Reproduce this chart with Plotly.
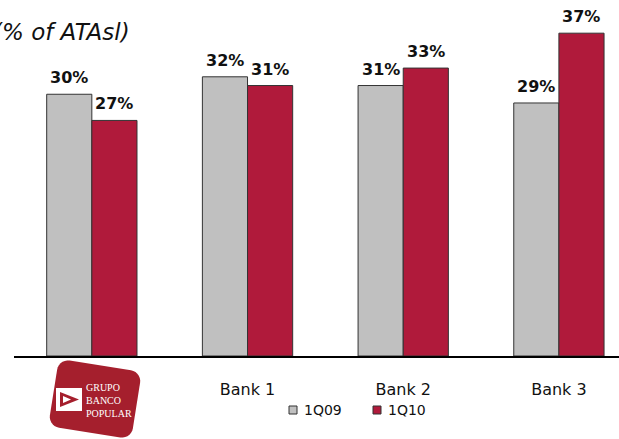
import numpy as np
import plotly.graph_objects as go

# --- data ---
categories = ["", "Bank 1", "Bank 2", "Bank 3"]
series_names = ["1Q09", "1Q10"]
values_1q09 = [30, 32, 31, 29]
values_1q10 = [27, 31, 33, 37]

gray = "#c0c0c0"
crimson = "#b01a3b"
logo_red = "#a51f2d"

# --- canvas geometry (pixels) ---
FIG_W, FIG_H = 619, 439
M_L, M_T = 14, 7
PLOT_W = FIG_W - M_L
PLOT_BOTTOM = 356
PLOT_H = PLOT_BOTTOM - M_T
BARGAP = 0.42
BAR_OFFSET = (1 - BARGAP) / 4   # centre offset of each bar within a group


def px(x):
    return (x - M_L) / PLOT_W


def py(y):
    return (PLOT_BOTTOM - y) / PLOT_H


fig = go.Figure()
annotations = []
xs = list(range(len(categories)))
for k, (name, vals, col) in enumerate([(series_names[0], values_1q09, gray),
                                       (series_names[1], values_1q10, crimson)]):
    fig.add_trace(go.Bar(
        x=xs, y=vals, name=name,
        marker=dict(color=col, line=dict(color="#333333", width=1)),
        showlegend=False,
    ))
    sign = -1 if k == 0 else 1
    for xi, v in zip(xs, vals):
        annotations.append(dict(
            text=f"<b>{v}%</b>", x=xi + sign * BAR_OFFSET, y=v,
            xref="x", yref="y", xanchor="center", yanchor="bottom",
            yshift=5, showarrow=False,
            font=dict(family="DejaVu Sans", size=16, color="#111111")))


# --- logo: rotated rounded rectangle ---
def rounded_rect_path(cx, cy, w, h, r, angle_deg, n=8):
    pts = []
    corners = [(w / 2 - r, -h / 2 + r, -90), (w / 2 - r, h / 2 - r, 0),
               (-w / 2 + r, h / 2 - r, 90), (-w / 2 + r, -h / 2 + r, 180)]
    for ccx, ccy, a0 in corners:
        for t in np.linspace(a0, a0 + 90, n):
            pts.append((ccx + r * np.cos(np.radians(t)),
                        ccy + r * np.sin(np.radians(t))))
    a = np.radians(angle_deg)
    out = []
    for x, y in pts:
        rx = cx + x * np.cos(a) - y * np.sin(a)
        ry = cy + x * np.sin(a) + y * np.cos(a)
        out.append((px(rx), py(ry)))
    return "M " + " L ".join(f"{x:.5f},{y:.5f}" for x, y in out) + " Z"


shapes = [
    dict(type="path", xref="paper", yref="paper",
         path=rounded_rect_path(95, 399, 84, 68, 11, 9),
         fillcolor=logo_red, line=dict(width=0), layer="above"),
    # logo emblem: white box with arrow
    dict(type="rect", xref="paper", yref="paper",
         x0=px(56), x1=px(82), y0=py(411), y1=py(388),
         fillcolor="white", line=dict(width=0)),
    dict(type="path", xref="paper", yref="paper",
         path=f"M {px(60)},{py(392)} L {px(79)},{py(399.5)} L {px(60)},{py(407)} Z",
         fillcolor=logo_red, line=dict(width=0)),
    dict(type="path", xref="paper", yref="paper",
         path=f"M {px(63)},{py(396)} L {px(71)},{py(399.5)} L {px(63)},{py(403)} Z",
         fillcolor="white", line=dict(width=0)),
    # legend squares
    dict(type="rect", xref="paper", yref="paper",
         x0=px(289), x1=px(297), y0=py(414), y1=py(406),
         fillcolor=gray, line=dict(color="#333333", width=1)),
    dict(type="rect", xref="paper", yref="paper",
         x0=px(373), x1=px(381), y0=py(414), y1=py(406),
         fillcolor=crimson, line=dict(color="#333333", width=1)),
]

annotations += [
    dict(text="<i>(% of ATAsl)</i>", xref="paper", yref="paper",
         x=px(-9), y=py(32), xanchor="left", yanchor="middle",
         showarrow=False, font=dict(family="DejaVu Sans", size=23, color="#111111")),
    dict(text="GRUPO<br>BANCO<br>POPULAR", xref="paper", yref="paper",
         x=px(84), y=py(400), xanchor="left", yanchor="middle", align="left",
         showarrow=False,
         font=dict(family="Liberation Serif", size=10, color="white")),
    dict(text=series_names[0], xref="paper", yref="paper",
         x=px(302), y=py(410), xanchor="left", yanchor="middle",
         showarrow=False, font=dict(family="DejaVu Sans", size=14, color="#111111")),
    dict(text=series_names[1], xref="paper", yref="paper",
         x=px(386), y=py(410), xanchor="left", yanchor="middle",
         showarrow=False, font=dict(family="DejaVu Sans", size=14, color="#111111")),
]

fig.update_layout(
    width=FIG_W, height=FIG_H,
    margin=dict(l=M_L, r=0, t=M_T, b=FIG_H - PLOT_BOTTOM),
    paper_bgcolor="white", plot_bgcolor="white",
    barmode="group", bargap=BARGAP, bargroupgap=0,
    shapes=shapes, annotations=annotations,
    xaxis=dict(
        range=[-0.5, 3.386], tickmode="array",
        tickvals=xs, ticktext=categories,
        showline=True, linecolor="black", linewidth=2,
        ticks="outside", ticklen=18, tickcolor="rgba(0,0,0,0)",
        tickfont=dict(family="DejaVu Sans", size=16, color="#111111"),
        showgrid=False, zeroline=False,
    ),
    yaxis=dict(range=[0, 40], visible=False, showgrid=False),
)

fig.write_html("out.html")
